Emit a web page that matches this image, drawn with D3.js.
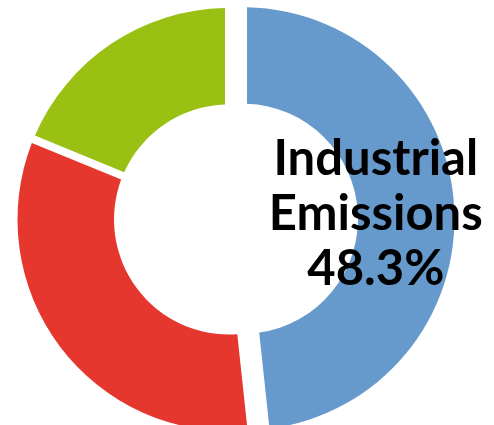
<!DOCTYPE html>
<html>
<head>
<meta charset="utf-8">
<script src="https://cdn.jsdelivr.net/npm/d3@7"></script>
<style>
  body { margin: 0; background: #fff; }
</style>
</head>
<body>
<div id="chart"></div>
<script>
// data
var categories = ["Industrial Emissions", "Transport", "Residential"];
var shares = [48.3, 32.9, 18.8];
var colors = ["#6699cc", "#e5372e", "#99c012"];

var svgWidth = 494;
var svgHeight = 425;

var center = { x: 229, y: 219.5 };
var outerR = 211.5;
var innerR = 115;
var gap = 8;       // white gap between slices, px
var explode = 14;  // first slice pulled out, px

var svg = d3.select("#chart").append("svg")
    .attr("width", svgWidth)
    .attr("height", svgHeight);

var chartGroup = svg.append("g")
    .attr("transform", `translate(${center.x}, ${center.y})`);

var pie = d3.pie()
    .sort(null)
    .value(d => d);

var arc = d3.arc()
    .innerRadius(innerR)
    .outerRadius(outerR)
    .padRadius(outerR)
    .padAngle(gap / outerR);

var labelArc = d3.arc()
    .innerRadius(133)
    .outerRadius(133);

var slices = pie(shares);

// push a slice out along its middle angle
function offset(d, i) {
    if (i !== 0) return "translate(0,0)";
    var mid = (d.startAngle + d.endAngle) / 2;
    return `translate(${explode * Math.sin(mid)}, ${-explode * Math.cos(mid)})`;
}

chartGroup.selectAll("path")
    .data(slices)
    .enter()
    .append("path")
    .attr("d", arc)
    .attr("transform", offset)
    .style("fill", (d, i) => colors[i]);

// label only on the big slice
var first = slices[0];
var pos = labelArc.centroid(first);
var mid = (first.startAngle + first.endAngle) / 2;
pos[0] += explode * Math.sin(mid);
pos[1] += -explode * Math.cos(mid);

var words = categories[0].split(" ").concat([shares[0].toFixed(1) + "%"]);

var label = chartGroup.append("text")
    .attr("x", pos[0])
    .attr("y", pos[1])
    .attr("text-anchor", "middle")
    .style("font-family", "Lato, sans-serif")
    .style("font-weight", "bold")
    .style("font-size", "49px")
    .style("fill", "#000");

label.selectAll("tspan")
    .data(words)
    .enter()
    .append("tspan")
    .attr("x", pos[0])
    .attr("y", (d, i) => pos[1] + (i - 1) * 55 + 18)
    .text(d => d);
</script>
</body>
</html>
